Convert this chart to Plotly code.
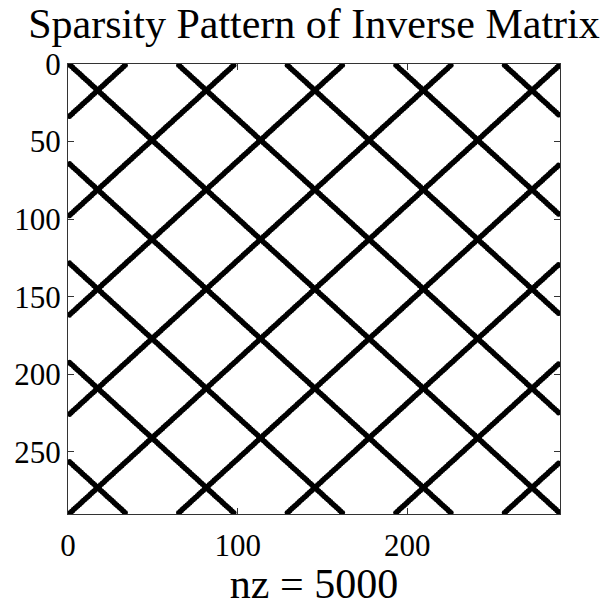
import plotly.graph_objects as go

# Matrix size and the nonzero structure of the inverse
N = 289
DIAGONAL_OFFSETS = [-256, -192, -128, -64, 0, 64, 128, 192, 256]     # j - i
ANTI_DIAGONAL_SUMS = [34, 98, 162, 226, 290, 354, 418, 482, 546]     # i + j
BAND = [0, 1]                                                       # band thickness
NZ = 5000

X_TICKS = [0, 100, 200]
Y_TICKS = [0, 50, 100, 150, 200, 250]

TITLE = "Sparsity Pattern of Inverse Matrix"
FONT = "Liberation Serif, Times New Roman, serif"

# Collect (row, col) positions of nonzeros (1-based, like spy)
entries = set()
for c in DIAGONAL_OFFSETS:
    for b in BAND:
        d = c + b
        for i in range(max(1, 1 - d), min(N, N - d) + 1):
            entries.add((i, i + d))
for s in ANTI_DIAGONAL_SUMS:
    for b in BAND:
        t = s + b
        for i in range(max(1, t - N), min(N, t - 1) + 1):
            entries.add((i, t - i))

entries = sorted(entries)
rows = [e[0] for e in entries]
cols = [e[1] for e in entries]

fig = go.Figure(
    go.Scatter(
        x=cols,
        y=rows,
        mode="markers",
        marker=dict(color="black", size=4.5, line=dict(width=0)),
        hoverinfo="skip",
    )
)

axis_common = dict(
    showgrid=False,
    zeroline=False,
    showline=True,
    linecolor="#333",
    linewidth=1,
    mirror="ticks",
    ticks="inside",
    ticklen=6,
    tickcolor="#333",
    tickfont=dict(family=FONT, size=31, color="black"),
)

fig.update_layout(
    width=610,
    height=607,
    margin=dict(l=68, r=50, t=64, b=77),
    paper_bgcolor="white",
    plot_bgcolor="white",
    showlegend=False,
    title=dict(
        text=TITLE,
        font=dict(family=FONT, size=42, color="black"),
        x=0.5,
        xref="paper",
        xanchor="center",
        y=0.962,
        yref="container",
        yanchor="middle",
    ),
    xaxis=dict(
        range=[0, N + 1],
        tickvals=X_TICKS,
        ticktext=[str(v) for v in X_TICKS],
        ticklabelstandoff=4,
        title=dict(text=f"nz = {NZ}", font=dict(family=FONT, size=42, color="black"), standoff=2),
        **axis_common,
    ),
    yaxis=dict(
        range=[N + 1, 0],
        tickvals=Y_TICKS,
        ticktext=[str(v) for v in Y_TICKS],
        **axis_common,
    ),
)

fig.write_html("out.html")
